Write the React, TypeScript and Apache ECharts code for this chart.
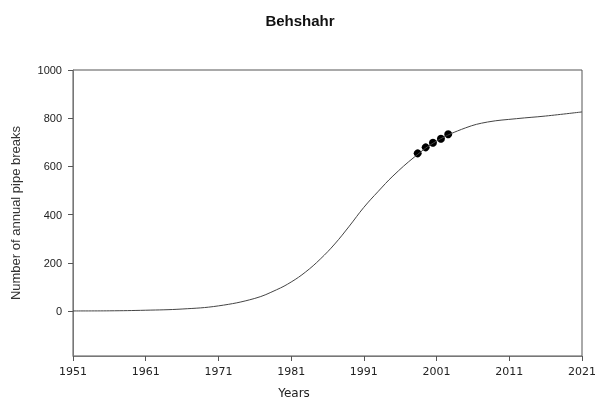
import React, { useEffect, useRef } from "react";
import * as echarts from "echarts";

const curveYears = [1951, 1956, 1961, 1966, 1971, 1976, 1979, 1981, 1983, 1985, 1987, 1989, 1991, 1993, 1995, 1998, 2001, 2005, 2008, 2012, 2016, 2021];
const curveValues = [0, 0.5, 3, 8, 21, 52, 88, 120, 162, 215, 278, 352, 430, 497, 560, 640, 705, 760, 784, 798, 809, 826];
const observedYears = [1998.4, 1999.5, 2000.5, 2001.6, 2002.6];
const observedValues = [654, 679, 698, 715, 733];
const xTicks = [1951, 1961, 1971, 1981, 1991, 2001, 2011, 2021];
const yTicks = [0, 200, 400, 600, 800, 1000];

export default function App() {
  const ref = useRef<HTMLDivElement>(null);
  useEffect(() => {
    if (!ref.current) return;
    const chart = echarts.init(ref.current, null, { renderer: "svg" });
    chart.setOption({
      animation: false,
      title: {
        text: "Behshahr",
        left: 295,
        top: 8,
        textAlign: "center",
        textStyle: { fontFamily: "Liberation Sans", fontSize: 15, fontWeight: "bold", color: "#111" },
      },
      graphic: [
        {
          type: "text",
          x: 294,
          y: 393,
          style: {
            text: "Years",
            fontFamily: "DejaVu Sans",
            fontSize: 12,
            fill: "#222",
            textAlign: "center",
            textVerticalAlign: "middle",
          },
        },
      ],
      grid: { left: 73, right: 14, top: 70, bottom: 43, show: true, borderColor: "#555", borderWidth: 1 },
      xAxis: {
        type: "value",
        min: 1951,
        max: 2021,
        interval: 10,
        axisLine: { show: true, onZero: false, lineStyle: { color: "#777" } },
        axisTick: { show: true, length: 5, lineStyle: { color: "#555" } },
        splitLine: { show: false },
        axisLabel: {
          margin: 10,
          fontFamily: "DejaVu Sans",
          fontSize: 11,
          color: "#222",
          formatter: (v: number) => (xTicks.includes(v) ? String(v) : ""),
        },
      },
      yAxis: {
        type: "value",
        min: -187,
        max: 1000,
        name: "Number of annual pipe breaks",
        nameLocation: "middle",
        nameGap: 51,
        nameTextStyle: { fontFamily: "Liberation Sans", fontSize: 13, color: "#333" },
        axisLine: { show: true, lineStyle: { color: "#777" } },
        axisTick: { show: true, length: 5, lineStyle: { color: "#555" }, customValues: yTicks },
        splitLine: { show: false },
        axisLabel: {
          margin: 11,
          fontFamily: "Liberation Sans",
          fontSize: 11,
          color: "#222",
          customValues: yTicks,
          formatter: (v: number) => String(v),
        },
      },
      series: [
        {
          type: "line",
          data: curveYears.map((y, i) => [y, curveValues[i]]),
          smooth: 0.4,
          showSymbol: false,
          lineStyle: { color: "#444", width: 1 },
        },
        {
          type: "scatter",
          data: observedYears.map((y, i) => [y, observedValues[i]]),
          symbolSize: 8,
          itemStyle: { color: "#000", opacity: 1 },
        },
      ],
    });
    return () => chart.dispose();
  }, []);
  return <div ref={ref} style={{ position: "fixed", left: 0, top: 0, width: 599, height: 399 }} />;
}
